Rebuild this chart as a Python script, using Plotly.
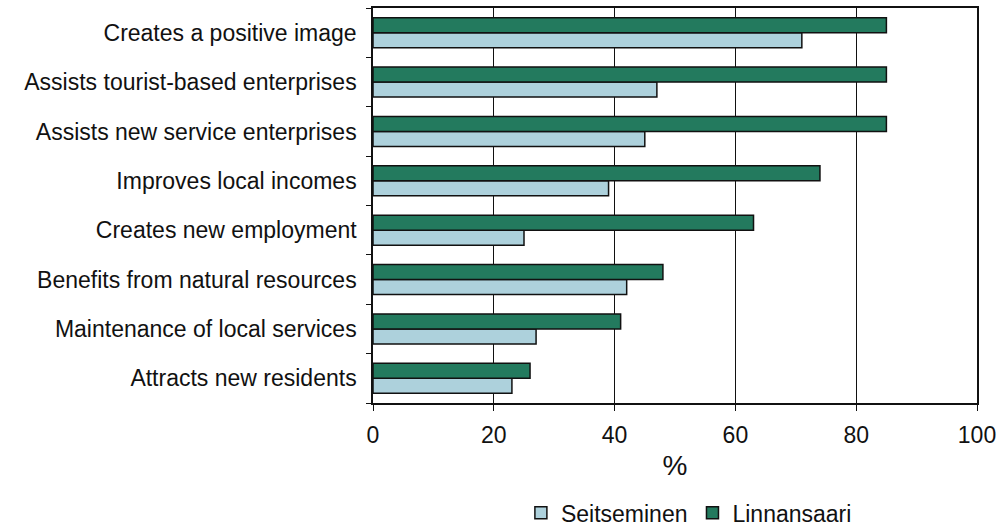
import plotly.graph_objects as go

categories = [
    "Creates a positive image",
    "Assists tourist-based enterprises",
    "Assists new service enterprises",
    "Improves local incomes",
    "Creates new employment",
    "Benefits from natural resources",
    "Maintenance of local services",
    "Attracts new residents",
]
seitseminen = [71, 47, 45, 39, 25, 42, 27, 23]
linnansaari = [85, 85, 85, 74, 63, 48, 41, 26]
x_ticks = [0, 20, 40, 60, 80, 100]

fig = go.Figure()
fig.add_trace(go.Bar(
    y=categories, x=seitseminen, name="Seitseminen", orientation="h",
    marker=dict(color="#ADD1DC", line=dict(color="#111111", width=1.5)),
))
fig.add_trace(go.Bar(
    y=categories, x=linnansaari, name="Linnansaari", orientation="h",
    marker=dict(color="#237A5E", line=dict(color="#111111", width=1.5)),
))

font = "Liberation Sans, Arial, sans-serif"
fig.update_layout(
    width=998, height=527,
    margin=dict(l=373, r=21, t=8, b=124, autoexpand=False),
    paper_bgcolor="white", plot_bgcolor="white",
    barmode="group", bargap=0.39, bargroupgap=0,
    font=dict(family=font, size=23, color="#111111"),
    showlegend=True,
    legend=dict(orientation="h", x=0.523, xanchor="center", y=-0.278, yanchor="middle",
                font=dict(size=23), traceorder="normal", itemwidth=30),
)
fig.update_xaxes(
    range=[0, 100], tickvals=x_ticks, ticks="outside", ticklen=6, tickcolor="#111111",
    showgrid=True, gridcolor="#111111", gridwidth=1,
    showline=True, linecolor="#111111", linewidth=1.5, mirror=True,
    zeroline=False, title=dict(text="%", standoff=8), tickfont=dict(size=23),
    ticklabelstandoff=5, automargin=False,
)
fig.update_yaxes(
    categoryorder="array", categoryarray=categories[::-1],
    ticks="outside", ticklen=5, tickcolor="#111111", tickson="boundaries",
    showline=True, linecolor="#111111", linewidth=1.5, mirror=True,
    showgrid=False, zeroline=False, tickfont=dict(size=23),
    ticklabelstandoff=10, automargin=False,
)

fig.write_html("out.html")
